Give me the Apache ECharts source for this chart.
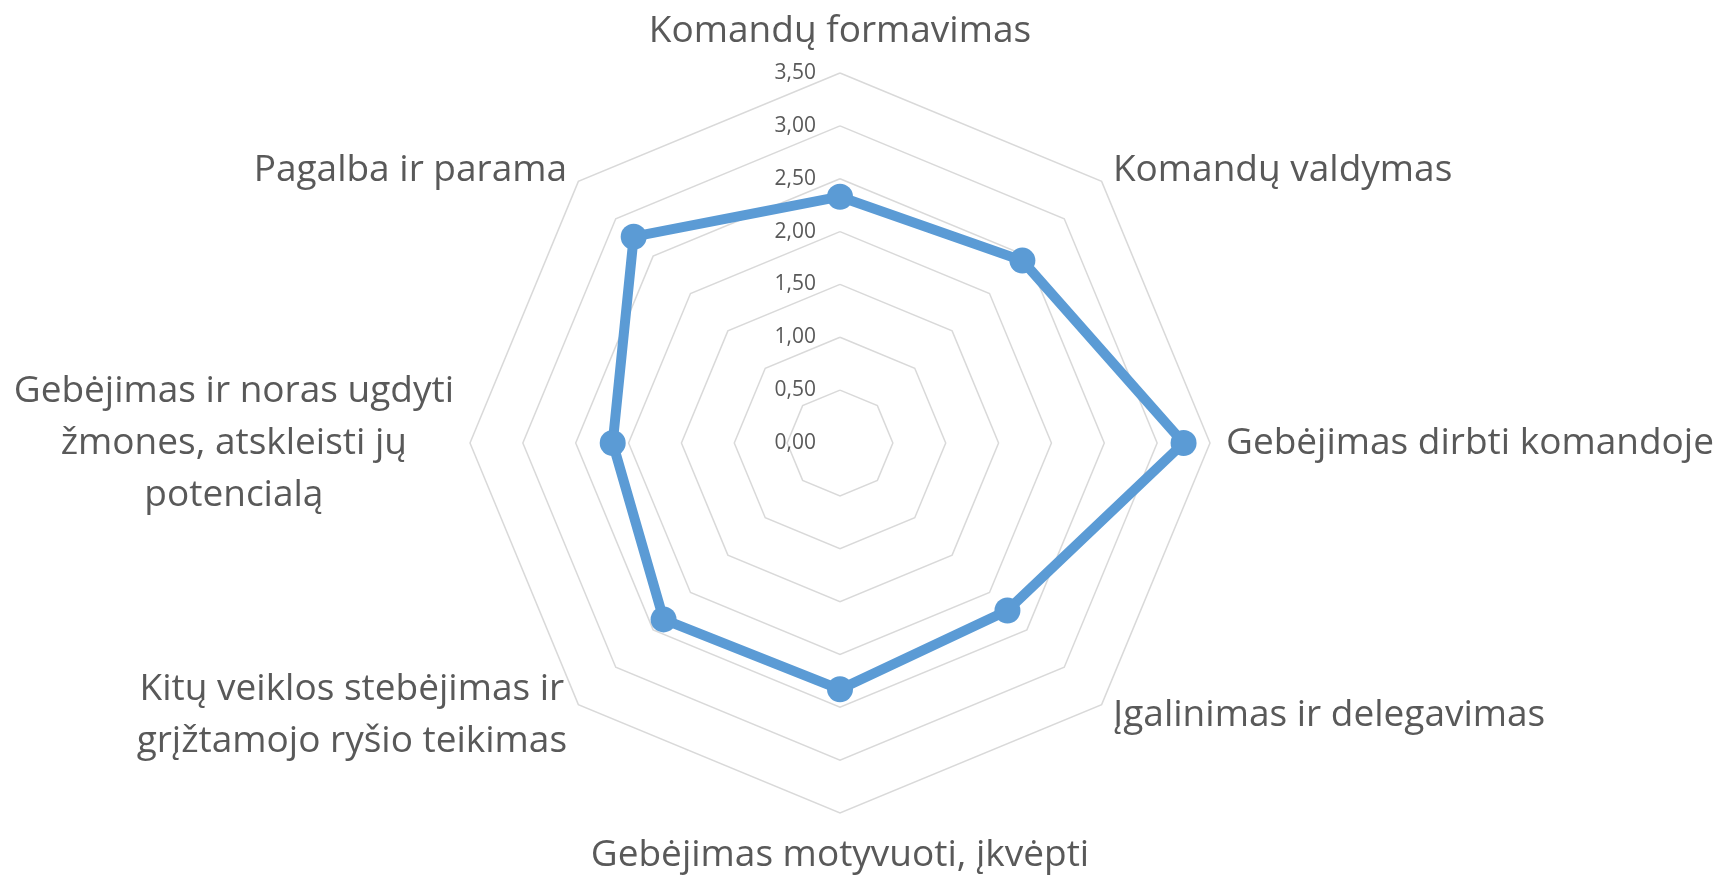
<!DOCTYPE html>
<html>
<head>
<meta charset="utf-8">
<title>Radar</title>
<script src="https://cdn.jsdelivr.net/npm/echarts@6/dist/echarts.min.js"></script>
<style>
    html, body { margin: 0; padding: 0; background: #ffffff; }
    #div_radar { width: 1721px; height: 877px; }
</style>
</head>
<body>
<div id="div_radar"></div>
<script>
// categories, clockwise from the top (as in the picture)
var categories = [
    'Komandų formavimas',
    'Komandų valdymas',
    'Gebėjimas dirbti komandoje',
    'Įgalinimas ir delegavimas',
    'Gebėjimas motyvuoti, įkvėpti',
    'Kitų veiklos stebėjimas ir\ngrįžtamojo ryšio teikimas',
    'Gebėjimas ir noras ugdyti\nžmones, atskleisti jų\npotencialą',
    'Pagalba ir parama'
];
var values = [2.33, 2.44, 3.25, 2.24, 2.33, 2.36, 2.15, 2.76];
var axisMin = 0;
var axisMax = 3.5;
var axisStep = 0.5;

(function () {
    "use strict";

    var textColor = '#595959';
    var fontName = 'Open Sans';

    // echarts puts indicators counter clockwise, so keep the first and reverse the rest
    var order = [0];
    for (var i = categories.length - 1; i > 0; i--) {
        order.push(i);
    }

    var indicators = [];
    var data = [];
    for (var k = 0; k < order.length; k++) {
        var ind = { text: categories[order[k]], min: axisMin, max: axisMax };
        if (k == 0) {
            // value labels only on the top axis
            ind.axisLabel = {
                show: true,
                color: textColor,
                fontSize: 21,
                fontFamily: fontName,
                margin: 24,
                formatter: function (v) {
                    return v.toFixed(2).replace('.', ',');
                }
            };
        }
        indicators.push(ind);
        data.push(values[order[k]]);
    }

    var myChart = echarts.init(document.getElementById('div_radar'));

    var option = {
        animation: false,
        backgroundColor: '#ffffff',
        radar: {
            center: [840, 443],
            radius: 370,
            startAngle: 90,
            shape: 'polygon',
            splitNumber: Math.round((axisMax - axisMin) / axisStep),
            nameGap: 16,
            axisName: {
                color: textColor,
                fontSize: 37,
                fontFamily: fontName,
                lineHeight: 52,
                formatter: function (name) {
                    // centre every line inside the label block
                    return name.split('\n').map(function (s) {
                        return '{c|' + s + '}';
                    }).join('\n');
                },
                rich: {
                    c: {
                        align: 'center',
                        color: textColor,
                        fontSize: 37,
                        fontFamily: fontName,
                        lineHeight: 52
                    }
                }
            },
            axisLine: { show: false },
            axisTick: { show: false },
            axisLabel: { show: false },
            splitArea: { show: false },
            splitLine: {
                lineStyle: { color: '#d9d9d9', width: 1.5 }
            },
            indicator: indicators
        },
        series: [
            {
                type: 'radar',
                symbol: 'circle',
                symbolSize: 26,
                lineStyle: { color: '#5b9bd5', width: 10 },
                itemStyle: { color: '#5b9bd5' },
                data: [{ value: data }]
            }
        ]
    };

    myChart.setOption(option);
}());
</script>
</body>
</html>
